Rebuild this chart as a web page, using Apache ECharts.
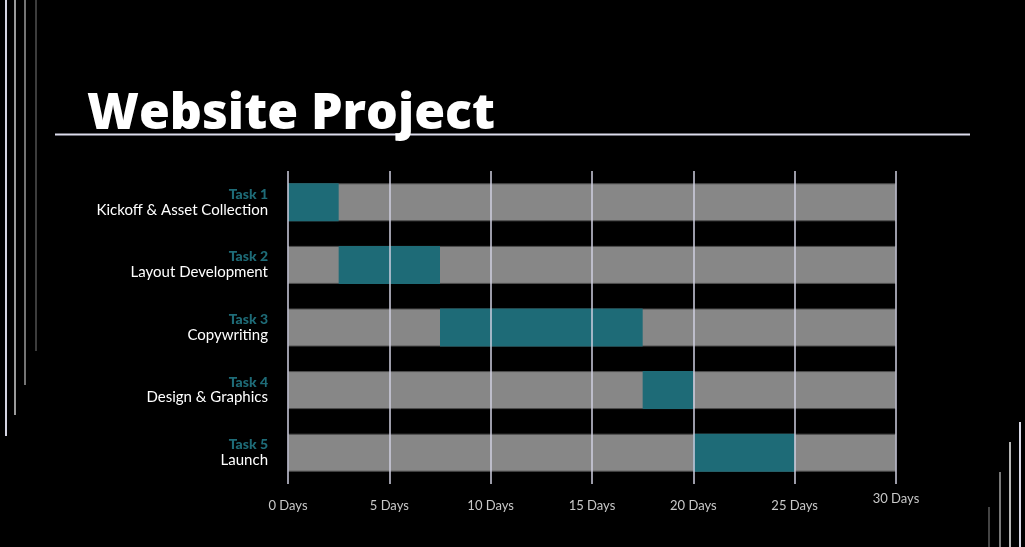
<!DOCTYPE html>
<html>
<head>
<meta charset="utf-8">
<script src="https://cdn.jsdelivr.net/npm/echarts@6/dist/echarts.min.js"></script>
<style>
html,body{margin:0;padding:0;background:#000;}
#chart{width:1025px;height:547px;}
</style>
</head>
<body>
<div id="chart"></div>
<script>
// ---- data ----
const taskIds = ['Task 1', 'Task 2', 'Task 3', 'Task 4', 'Task 5'];
const taskNames = ['Kickoff & Asset Collection', 'Layout Development', 'Copywriting', 'Design & Graphics', 'Launch'];
const taskStart = [0, 2.5, 7.5, 17.5, 20];
const taskDuration = [2.5, 5, 10, 2.5, 5];
const projectLength = [30, 30, 30, 30, 30];
const tickValues = [0, 5, 10, 15, 20, 25, 30];
const tickLabels = ['0 Days', '5 Days', '10 Days', '15 Days', '20 Days', '25 Days', '30 Days'];
const titleText = 'Website Project';

const chart = echarts.init(document.getElementById('chart'));

const categories = taskIds.map((t, i) => t + '\n' + taskNames[i]);

const leftLines = [
  {x: 6, y2: 436, c: '#d4d4e2'},
  {x: 15, y2: 415, c: '#9a9a9a'},
  {x: 25, y2: 385, c: '#747474'},
  {x: 36, y2: 351, c: '#3c3c3c'}
];
const rightLines = [
  {x: 989, y1: 507, c: '#444444'},
  {x: 1000, y1: 472, c: '#777777'},
  {x: 1010, y1: 442, c: '#b4b4b4'},
  {x: 1020, y1: 422, c: '#d8d8e6'}
];
const graphics = [];
leftLines.forEach(l => graphics.push({type: 'line', shape: {x1: l.x, y1: 0, x2: l.x, y2: l.y2}, style: {stroke: l.c, lineWidth: 2}, silent: true}));
rightLines.forEach(l => graphics.push({type: 'line', shape: {x1: l.x, y1: l.y1, x2: l.x, y2: 547}, style: {stroke: l.c, lineWidth: 2}, silent: true}));
graphics.push({type: 'line', shape: {x1: 55, y1: 134.5, x2: 970, y2: 134.5}, style: {stroke: '#dcdcec', lineWidth: 2}, silent: true});

const option = {
  backgroundColor: '#000000',
  animation: false,
  title: {
    text: titleText,
    left: 82,
    top: 85,
    textStyle: {color: '#ffffff', fontFamily: 'Open Sans', fontWeight: 800, fontSize: 50}
  },
  graphic: graphics,
  grid: {left: 288, right: 1025 - 896, top: 171, bottom: 547 - 484, containLabel: false},
  xAxis: {
    type: 'value',
    min: 0, max: 30, interval: 5,
    z: 5,
    axisLine: {show: false},
    axisTick: {show: false},
    splitLine: {show: true, lineStyle: {color: '#cfcfe0', width: 1.5}},
    axisLabel: {
      color: '#c8c8c8',
      fontFamily: 'Lato',
      fontSize: 13,
      margin: 7,
      formatter: function (v) {
        const i = tickValues.indexOf(v);
        const s = i >= 0 ? tickLabels[i] : '';
        return i === tickValues.length - 1 ? '{t|' + s + '}' : '{gap| }\n{t|' + s + '}';
      },
      rich: {
        gap: {fontSize: 4, lineHeight: 7},
        t: {color: '#c8c8c8', fontFamily: 'Lato', fontSize: 13, lineHeight: 15}
      }
    }
  },
  yAxis: {
    type: 'category',
    inverse: true,
    data: categories,
    axisLine: {show: false},
    axisTick: {show: false},
    splitLine: {show: false},
    axisLabel: {
      margin: 20,
      align: 'right',
      formatter: function (v) {
        const parts = v.split('\n');
        return '{id|' + parts[0] + '}\n{nm|' + parts[1] + '}';
      },
      rich: {
        id: {color: '#1e6b77', fontFamily: 'Lato', fontWeight: 900, fontSize: 14, lineHeight: 15, align: 'right'},
        nm: {color: '#ffffff', fontFamily: 'Lato', fontSize: 15, lineHeight: 16, align: 'right'}
      }
    }
  },
  series: [
    {
      name: 'Project',
      type: 'bar',
      data: projectLength,
      barWidth: 38,
      barGap: '-100%',
      itemStyle: {color: '#878787', borderColor: '#4e4e4e', borderWidth: 1},
      silent: true
    },
    {
      name: 'Start',
      type: 'bar',
      stack: 'task',
      data: taskStart,
      barWidth: 38,
      itemStyle: {color: 'rgba(0,0,0,0)'},
      silent: true
    },
    {
      name: 'Duration',
      type: 'bar',
      stack: 'task',
      data: taskDuration,
      barWidth: 38,
      itemStyle: {color: '#1e6b77'},
      silent: true
    }
  ]
};
chart.setOption(option);
</script>
</body>
</html>
